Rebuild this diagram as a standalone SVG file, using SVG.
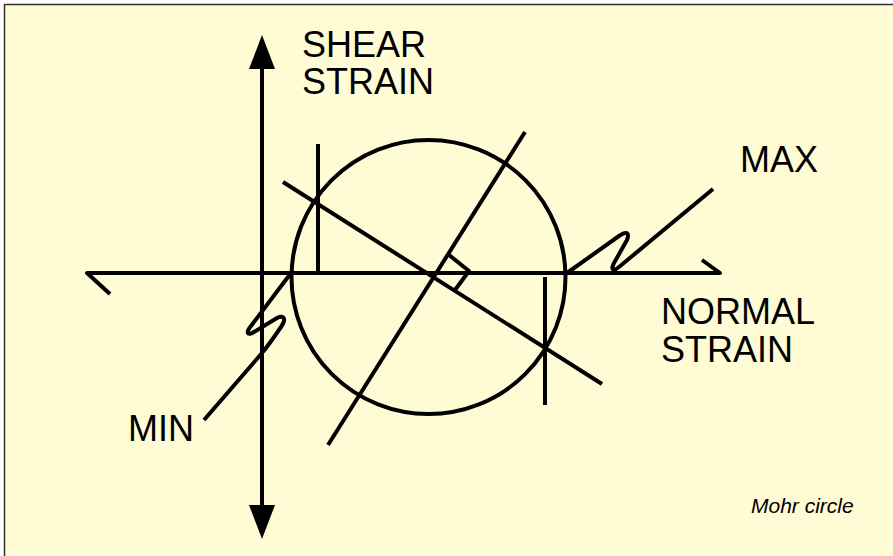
<svg xmlns="http://www.w3.org/2000/svg" width="893" height="556" viewBox="0 0 893 556">
  <style>
    .ln { fill: none; stroke: #000; stroke-width: 4; stroke-linecap: butt; stroke-linejoin: round; }
    .lbl { font-family: "Liberation Sans", Arial, Helvetica, sans-serif; font-size: 36px; fill: #000; }
    .cap { font-family: "Liberation Sans", Arial, Helvetica, sans-serif; font-size: 21px; font-style: italic; fill: #000; }
  </style>
  <rect x="0" y="0" width="893" height="556" fill="#ffffff"/>
  <rect x="4" y="4" width="889" height="552" fill="#FFFBD5"/>
  <path d="M4.5,556 V4.5 H893" fill="none" stroke="#333" stroke-width="1.5"/>

  <g id="shear-axis">
    <line class="ln" x1="262" y1="66" x2="262" y2="508"/>
    <polygon points="262,35 249,69 275,69" fill="#000"/>
    <polygon points="262,539 249,505 275,505" fill="#000"/>
  </g>

  <g id="normal-axis">
    <path class="ln" d="M110,294 L87,273 H720 L702,260"/>
  </g>

  <g id="mohr-circle">
    <circle class="ln" cx="428.5" cy="277" r="137"/>
  </g>

  <g id="connectors">
    <line class="ln" x1="318" y1="144" x2="318" y2="273"/>
    <line class="ln" x1="545" y1="277" x2="545" y2="405"/>
    <line class="ln" x1="525" y1="132" x2="328" y2="445"/>
    <line class="ln" x1="283" y1="182" x2="602" y2="384"/>
    <path class="ln" d="M449,255 L469,271 L455,290"/>
    <path class="ln" d="M567,273 L619,236 C626,231 630,232 627,240 L614,263 C610,271 614,271 619,267 L713,189"/>
    <path class="ln" d="M291,273 L251,326 C245,333 248,336 254,332 L277,318 C285,314 286,320 281,327 Q268,346 262,353 L204,420"/>
  </g>

  <g id="label-shear">
    <text class="lbl" x="302" y="57">SHEAR</text>
    <text class="lbl" x="302" y="94">STRAIN</text>
  </g>
  <g id="label-max">
    <text class="lbl" x="740" y="172">MAX</text>
  </g>
  <g id="label-normal">
    <text class="lbl" x="661" y="324">NORMAL</text>
    <text class="lbl" x="661" y="362">STRAIN</text>
  </g>
  <g id="label-min">
    <text class="lbl" x="128" y="441">MIN</text>
  </g>
  <g id="caption">
    <text class="cap" x="751" y="513">Mohr circle</text>
  </g>
</svg>
